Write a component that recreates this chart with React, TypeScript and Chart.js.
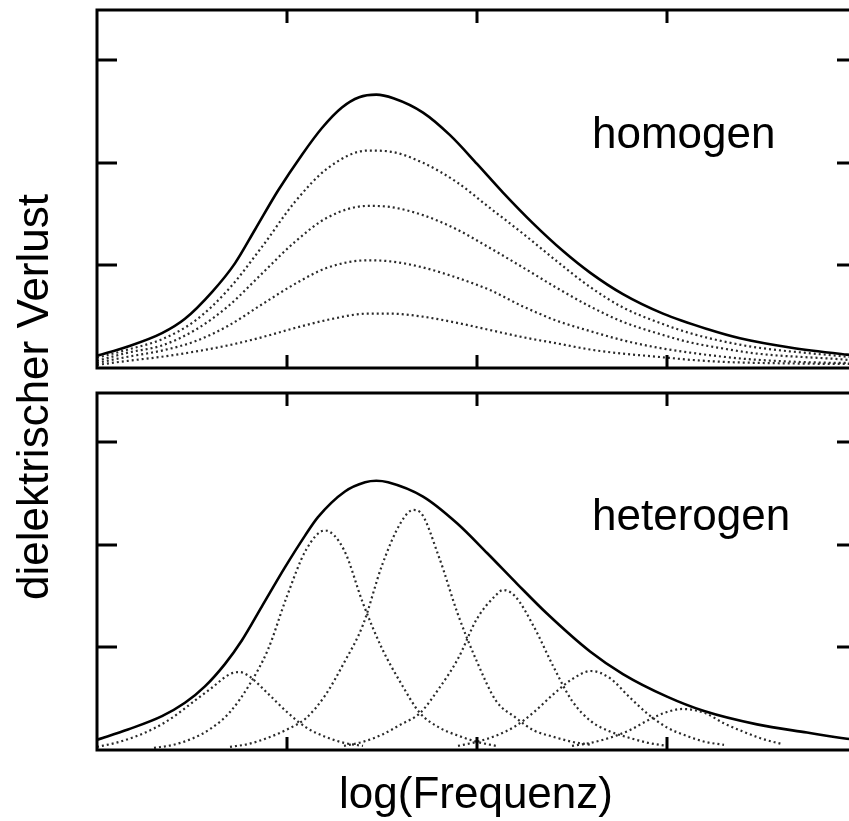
import React, { useEffect, useRef } from "react";
import { Chart, registerables } from "chart.js";

Chart.register(...registerables);

// ---- axes ----
const X_MAX = 4;
const TOP_Y_MAX = 3.49;
const BOT_Y_MAX = 3.48;
const X_TICKS = [1, 2, 3];
const Y_TICKS = [1, 2, 3];

// ---- labels ----
const Y_TITLE = "dielektrischer Verlust";
const X_TITLE = "log(Frequenz)";
const TOP_LABEL = "homogen";
const BOT_LABEL = "heterogen";

// ---- homogeneous panel: total loss curve ----
const TOP_SOLID_X = [0, 0.163, 0.342, 0.463, 0.605, 0.726, 0.832, 0.953, 1.079, 1.184, 1.289, 1.38, 1.47, 1.56, 1.716, 1.858, 2.0, 2.137, 2.295, 2.453, 2.595, 2.768, 2.979, 3.211, 3.384, 3.647, 3.947, 4.0];
const TOP_SOLID_Y = [0.12, 0.21, 0.34, 0.48, 0.74, 1.02, 1.35, 1.73, 2.08, 2.34, 2.54, 2.64, 2.665, 2.63, 2.49, 2.27, 1.99, 1.71, 1.41, 1.14, 0.93, 0.72, 0.53, 0.38, 0.29, 0.2, 0.13, 0.12];

// ---- homogeneous panel: partial curves (shared frequency grid) ----
const TOP_DOT_X = [0, 0.163, 0.342, 0.516, 0.689, 0.868, 1.042, 1.216, 1.426, 1.542, 1.716, 1.895, 2.068, 2.242, 2.421, 2.595, 2.768, 2.947, 3.121, 3.295, 3.474, 3.947, 4.0];
const TOP_DOT_1 = [0.1, 0.18, 0.28, 0.46, 0.76, 1.18, 1.62, 1.95, 2.12, 2.11, 2.0, 1.81, 1.56, 1.31, 1.04, 0.79, 0.59, 0.45, 0.34, 0.26, 0.2, 0.11, 0.1];
const TOP_DOT_2 = [0.07, 0.15, 0.22, 0.37, 0.6, 0.92, 1.23, 1.47, 1.58, 1.57, 1.49, 1.35, 1.17, 0.98, 0.78, 0.6, 0.45, 0.34, 0.25, 0.19, 0.14, 0.08, 0.07];
const TOP_DOT_3 = [0.05, 0.11, 0.17, 0.26, 0.41, 0.62, 0.82, 0.98, 1.05, 1.04, 0.98, 0.88, 0.76, 0.6, 0.46, 0.36, 0.27, 0.2, 0.15, 0.11, 0.08, 0.05, 0.05];
const TOP_DOT_4 = [0.03, 0.07, 0.11, 0.16, 0.22, 0.3, 0.39, 0.47, 0.53, 0.53, 0.5, 0.44, 0.37, 0.3, 0.24, 0.18, 0.14, 0.11, 0.08, 0.06, 0.05, 0.04, 0.04];

// ---- heterogeneous panel: total loss curve ----
const BOT_SOLID_X = [0, 0.163, 0.342, 0.463, 0.568, 0.674, 0.763, 0.868, 0.989, 1.095, 1.163, 1.305, 1.411, 1.47, 1.532, 1.716, 1.895, 2.053, 2.211, 2.368, 2.595, 2.768, 3.0, 3.195, 3.474, 3.737, 3.947, 4.0];
const BOT_SOLID_Y = [0.1, 0.2, 0.33, 0.46, 0.62, 0.84, 1.07, 1.4, 1.78, 2.09, 2.27, 2.52, 2.61, 2.625, 2.61, 2.47, 2.21, 1.92, 1.62, 1.33, 0.96, 0.74, 0.52, 0.38, 0.25, 0.17, 0.11, 0.1];

// ---- heterogeneous panel: individual relaxation peaks ----
const PEAK1_X = [0, 0.1, 0.2, 0.3, 0.4, 0.5, 0.6, 0.7, 0.75, 0.8, 0.9, 1.0, 1.1, 1.2, 1.3, 1.4];
const PEAK1_Y = [0.03, 0.07, 0.13, 0.21, 0.32, 0.46, 0.6, 0.74, 0.76, 0.72, 0.55, 0.37, 0.22, 0.13, 0.07, 0.04];
const PEAK2_X = [0.3, 0.4, 0.5, 0.6, 0.7, 0.8, 0.9, 1.0, 1.1, 1.2, 1.3, 1.4, 1.5, 1.6, 1.7, 1.8, 1.9, 2.0, 2.1];
const PEAK2_Y = [0.02, 0.05, 0.11, 0.21, 0.37, 0.63, 0.98, 1.5, 1.95, 2.14, 1.95, 1.43, 0.99, 0.65, 0.36, 0.22, 0.14, 0.08, 0.04];
const PEAK3_X = [0.7, 0.8, 0.9, 1.0, 1.1, 1.2, 1.3, 1.4, 1.5, 1.6, 1.665, 1.7, 1.8, 1.9, 2.0, 2.1, 2.2, 2.3, 2.4, 2.5, 2.6];
const PEAK3_Y = [0.03, 0.06, 0.12, 0.2, 0.31, 0.53, 0.85, 1.22, 1.8, 2.22, 2.34, 2.32, 1.88, 1.32, 0.86, 0.48, 0.32, 0.19, 0.13, 0.08, 0.05];
const PEAK4_X = [1.3, 1.4, 1.5, 1.6, 1.7, 1.8, 1.9, 2.0, 2.1, 2.137, 2.2, 2.3, 2.4, 2.5, 2.6, 2.7, 2.8, 2.9, 3.0];
const PEAK4_Y = [0.04, 0.08, 0.15, 0.25, 0.36, 0.6, 0.89, 1.28, 1.51, 1.56, 1.5, 1.2, 0.82, 0.48, 0.28, 0.18, 0.12, 0.07, 0.04];
const PEAK5_X = [1.9, 2.0, 2.1, 2.2, 2.3, 2.4, 2.5, 2.6, 2.7, 2.8, 2.9, 3.0, 3.1, 3.2, 3.3];
const PEAK5_Y = [0.04, 0.08, 0.14, 0.23, 0.37, 0.54, 0.69, 0.77, 0.7, 0.52, 0.35, 0.22, 0.14, 0.08, 0.05];
const PEAK6_X = [2.5, 2.6, 2.7, 2.8, 2.9, 3.0, 3.08, 3.2, 3.3, 3.4, 3.5, 3.6];
const PEAK6_Y = [0.04, 0.07, 0.12, 0.19, 0.29, 0.37, 0.4, 0.36, 0.26, 0.18, 0.11, 0.06];

const CANVAS_W = 880;
const CANVAS_H = 821;
const FONT = "44px 'Liberation Sans', Arial, sans-serif";

const pts = (xs: number[], ys: number[]) => xs.map((x, i) => ({ x, y: ys[i] }));

const solid = (xs: number[], ys: number[]) => ({
  data: pts(xs, ys),
  borderColor: "#000",
  borderWidth: 2.6,
  pointRadius: 0,
  cubicInterpolationMode: "monotone" as const,
  fill: false,
});

const dotted = (xs: number[], ys: number[]) => ({
  data: pts(xs, ys),
  borderColor: "#2a2a2a",
  borderWidth: 2.2,
  borderDash: [2, 3],
  pointRadius: 0,
  cubicInterpolationMode: "monotone" as const,
  fill: false,
});

type Extra = (ctx: CanvasRenderingContext2D, chart: any) => void;

// Frame with inward-pointing ticks, plus any panel text
const framePlugin = (extra: Extra) => ({
  id: "frame",
  afterDraw(chart: any) {
    const { ctx, chartArea } = chart;
    const { left, right, top, bottom } = chartArea;
    const xs = chart.scales.x;
    const ys = chart.scales.y;
    ctx.save();
    ctx.strokeStyle = "#000";
    ctx.lineWidth = 3;
    ctx.strokeRect(left, top, right - left, bottom - top);
    ctx.beginPath();
    X_TICKS.forEach((v) => {
      const px = Math.round(xs.getPixelForValue(v));
      ctx.moveTo(px, top);
      ctx.lineTo(px, top + 13);
      ctx.moveTo(px, bottom);
      ctx.lineTo(px, bottom - 13);
    });
    Y_TICKS.forEach((v) => {
      const py = Math.round(ys.getPixelForValue(v));
      ctx.moveTo(left, py);
      ctx.lineTo(left + 20, py);
      ctx.moveTo(right, py);
      ctx.lineTo(right - 20, py);
    });
    ctx.stroke();
    ctx.fillStyle = "#000";
    ctx.font = FONT;
    ctx.textBaseline = "alphabetic";
    extra(ctx, chart);
    ctx.restore();
  },
});

const makeConfig = (
  datasets: any[],
  padding: { left: number; right: number; top: number; bottom: number },
  yMax: number,
  extra: Extra
) => ({
  type: "line" as const,
  data: { datasets },
  options: {
    responsive: false,
    maintainAspectRatio: false,
    animation: false as const,
    layout: { padding },
    scales: {
      x: { type: "linear" as const, min: 0, max: X_MAX, display: false },
      y: { type: "linear" as const, min: 0, max: yMax, display: false },
    },
    plugins: { legend: { display: false }, tooltip: { enabled: false } },
  },
  plugins: [framePlugin(extra)],
});

export default function App() {
  const topRef = useRef<HTMLCanvasElement>(null);
  const botRef = useRef<HTMLCanvasElement>(null);

  useEffect(() => {
    const top = new Chart(
      topRef.current!,
      makeConfig(
        [
          dotted(TOP_DOT_X, TOP_DOT_4),
          dotted(TOP_DOT_X, TOP_DOT_3),
          dotted(TOP_DOT_X, TOP_DOT_2),
          dotted(TOP_DOT_X, TOP_DOT_1),
          solid(TOP_SOLID_X, TOP_SOLID_Y),
        ],
        { left: 97, right: CANVAS_W - 857, top: 10, bottom: CANVAS_H - 368 },
        TOP_Y_MAX,
        (ctx) => {
          ctx.textAlign = "left";
          ctx.fillText(TOP_LABEL, 592, 148);
          // vertical axis title shared by both panels
          ctx.save();
          ctx.translate(48, 397);
          ctx.rotate(-Math.PI / 2);
          ctx.textAlign = "center";
          ctx.fillText(Y_TITLE, 0, 0);
          ctx.restore();
        }
      ) as any
    );
    const bot = new Chart(
      botRef.current!,
      makeConfig(
        [
          dotted(PEAK1_X, PEAK1_Y),
          dotted(PEAK2_X, PEAK2_Y),
          dotted(PEAK3_X, PEAK3_Y),
          dotted(PEAK4_X, PEAK4_Y),
          dotted(PEAK5_X, PEAK5_Y),
          dotted(PEAK6_X, PEAK6_Y),
          solid(BOT_SOLID_X, BOT_SOLID_Y),
        ],
        { left: 97, right: CANVAS_W - 857, top: 393, bottom: CANVAS_H - 750 },
        BOT_Y_MAX,
        (ctx) => {
          ctx.textAlign = "left";
          ctx.fillText(BOT_LABEL, 592, 530);
          ctx.textAlign = "center";
          ctx.fillText(X_TITLE, 476, 808);
        }
      ) as any
    );
    return () => {
      top.destroy();
      bot.destroy();
    };
  }, []);

  const canvasStyle: React.CSSProperties = {
    position: "absolute",
    left: 0,
    top: 0,
    width: CANVAS_W,
    height: CANVAS_H,
  };

  return (
    <div
      style={{
        position: "fixed",
        left: 0,
        top: 0,
        width: 849,
        height: 821,
        overflow: "hidden",
        background: "#fff",
      }}
    >
      <canvas ref={topRef} width={CANVAS_W} height={CANVAS_H} style={canvasStyle} />
      <canvas ref={botRef} width={CANVAS_W} height={CANVAS_H} style={canvasStyle} />
    </div>
  );
}
